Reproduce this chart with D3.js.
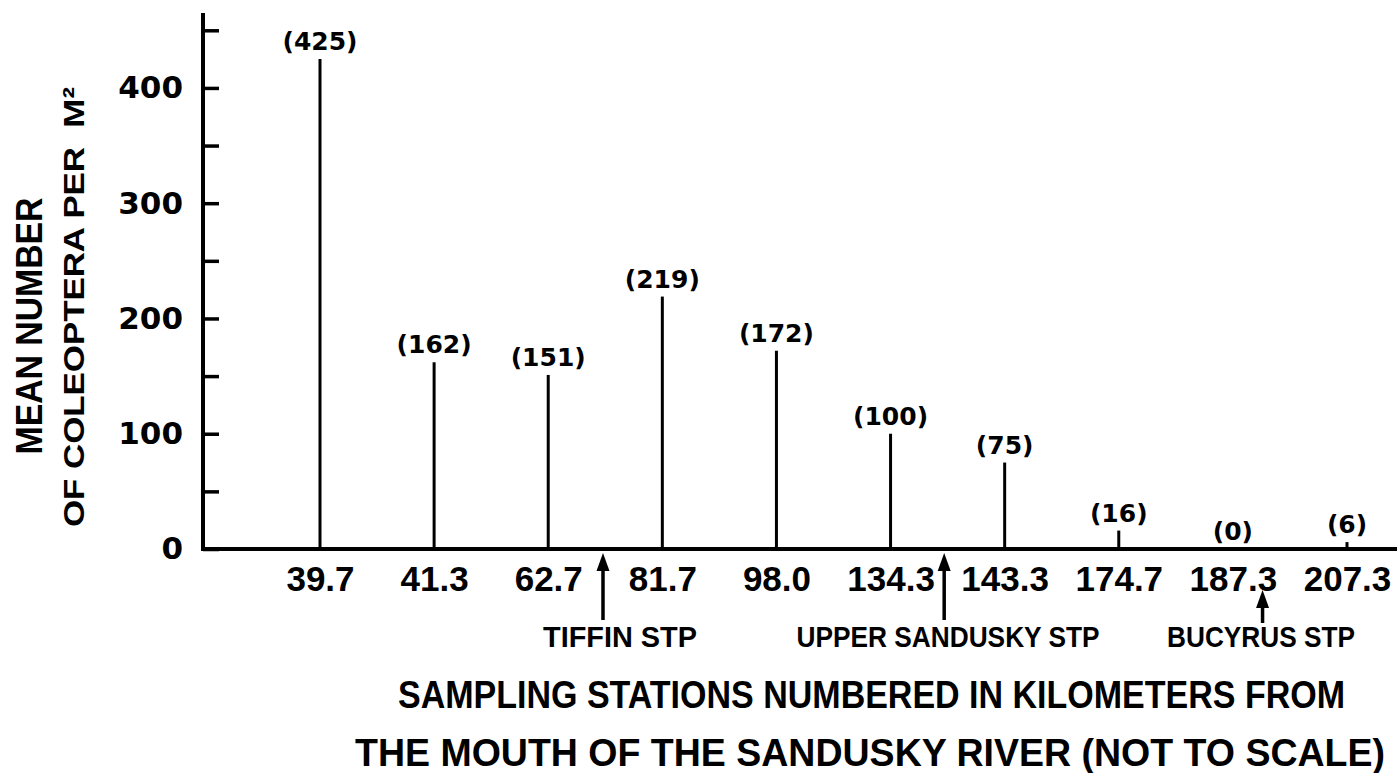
<!DOCTYPE html>
<html>
<head>
<meta charset="utf-8">
<script src="https://cdn.jsdelivr.net/npm/d3@7"></script>
<style>
  body { margin: 0; background: #fff; }
  svg { display: block; }
</style>
</head>
<body>
<svg id="chart" width="1397" height="773"></svg>
<script>
// stations (km from the mouth) and mean number of Coleoptera per m2
const stations = ["39.7", "41.3", "62.7", "81.7", "98.0", "134.3", "143.3", "174.7", "187.3", "207.3"];
const coleoptera = [425, 162, 151, 219, 172, 100, 75, 16, 0, 6];
const yTicks = [0, 50, 100, 150, 200, 250, 300, 350, 400, 450];

// sewage treatment plants, located between stations (fractional station index)
const stpNames = ["TIFFIN STP", "UPPER SANDUSKY STP", "BUCYRUS STP"];
const stpIndex = [2.48, 5.47, 8.26];

const svg = d3.select("#chart");
const W = 1397, H = 773;
svg.append("rect").attr("width", W).attr("height", H).attr("fill", "#fff");

const x = d3.scalePoint()
  .domain(stations)
  .range([320, 1347]);

const y = d3.scaleLinear()
  .domain([0, 465])
  .range([549, 13]);

const step = x.step();
const xAt = i => x(stations[0]) + i * step;

// y axis, ticks pointing inward
const yAxis = g => g
  .attr("transform", `translate(203,0)`)
  .call(d3.axisLeft(y)
    .tickValues(yTicks)
    .tickSize(-16)
    .tickSizeOuter(0)
    .tickPadding(20)
    .tickFormat(d => d % 100 === 0 ? d : ""))
  .call(g => g.select(".domain").attr("stroke-width", 4).attr("d", `M0,${y(0) + 2}V${y.range()[1]}`))
  .call(g => g.selectAll(".tick line").attr("stroke-width", 3.5))
  .call(g => g.selectAll(".tick text")
    .attr("font-family", "'DejaVu Sans', sans-serif")
    .attr("font-weight", "bold")
    .attr("font-size", 31)
    .attr("fill", "#000"));

svg.append("g").call(yAxis);

// x axis baseline, runs to the right edge
svg.append("line")
  .attr("x1", 201).attr("x2", W)
  .attr("y1", y(0)).attr("y2", y(0))
  .attr("stroke", "#000")
  .attr("stroke-width", 4);

const xAxis = g => g
  .attr("transform", `translate(0,${y(0)})`)
  .call(d3.axisBottom(x).tickSize(0).tickPadding(0))
  .call(g => g.select(".domain").remove())
  .call(g => g.selectAll(".tick text")
    .attr("y", 42)
    .attr("dy", null)
    .attr("font-family", "'Liberation Sans', Arial, sans-serif")
    .attr("font-weight", "bold")
    .attr("font-size", 35)
    .attr("fill", "#000"));

svg.append("g").call(xAxis);

// stems
svg.append("g")
  .selectAll("line")
  .data(coleoptera)
  .join("line")
  .attr("x1", (d, i) => x(stations[i]))
  .attr("x2", (d, i) => x(stations[i]))
  .attr("y1", y(0))
  .attr("y2", d => y(d))
  .attr("stroke", "#000")
  .attr("stroke-width", 3);

// value labels
svg.append("g")
  .selectAll("text")
  .data(coleoptera)
  .join("text")
  .attr("x", (d, i) => x(stations[i]))
  .attr("y", d => y(d) - 9)
  .attr("text-anchor", "middle")
  .attr("font-family", "'DejaVu Sans', sans-serif")
  .attr("font-weight", "bold")
  .attr("font-size", 25)
  .text(d => `(${d})`);

// STP arrows and labels
const arrowTip = [553, 553, 590];
const arrowTail = [620, 620, 623];
const stp = svg.append("g");
stpNames.forEach((name, i) => {
  const ax = xAt(stpIndex[i]);
  stp.append("line")
    .attr("x1", ax).attr("x2", ax)
    .attr("y1", arrowTip[i] + 12).attr("y2", arrowTail[i])
    .attr("stroke", "#000")
    .attr("stroke-width", 3.5);
  stp.append("path")
    .attr("d", `M${ax},${arrowTip[i]}L${ax - 6.5},${arrowTip[i] + 18}L${ax + 6.5},${arrowTip[i] + 18}Z`)
    .attr("fill", "#000");
});

const stpLabelX = [620, 948, 1261];
const stpLabelW = [154, 303, 188];
stp.selectAll("text")
  .data(stpNames)
  .join("text")
  .attr("x", (d, i) => stpLabelX[i] - stpLabelW[i] / 2)
  .attr("y", 647)
  .attr("textLength", (d, i) => stpLabelW[i])
  .attr("lengthAdjust", "spacingAndGlyphs")
  .attr("font-family", "'Liberation Sans', Arial, sans-serif")
  .attr("font-weight", "bold")
  .attr("font-size", 30)
  .text(d => d);

// x axis title (condensed lettering: narrower font stretched vertically)
const xTitle = [
  { text: "SAMPLING STATIONS NUMBERED IN KILOMETERS FROM", x0: 398, w: 947, y: 708 },
  { text: "THE MOUTH OF THE SANDUSKY RIVER (NOT TO SCALE)", x0: 355, w: 1030, y: 766 }
];
svg.append("g")
  .selectAll("text")
  .data(xTitle)
  .join("text")
  .attr("transform", d => `translate(${d.x0},${d.y}) scale(1,1.2)`)
  .attr("textLength", d => d.w)
  .attr("lengthAdjust", "spacingAndGlyphs")
  .attr("font-family", "'Liberation Sans Narrow', 'Liberation Sans', Arial, sans-serif")
  .attr("font-weight", "bold")
  .attr("font-size", 32)
  .text(d => d.text);

// y axis title (rotated)
const yTitle = [
  { text: "MEAN NUMBER", cx: 42, cy: 326, len: 257, size: 37 },
  { text: "OF COLEOPTERA PER\u00a0 M\u00b2", cx: 84, cy: 307, len: 440, size: 30 }
];
svg.append("g")
  .selectAll("text")
  .data(yTitle)
  .join("text")
  .attr("transform", d => `translate(${d.cx},${d.cy}) rotate(-90)`)
  .attr("x", d => -d.len / 2)
  .attr("y", 0)
  .attr("textLength", d => d.len)
  .attr("lengthAdjust", "spacingAndGlyphs")
  .attr("font-family", "'Liberation Sans', Arial, sans-serif")
  .attr("font-weight", "bold")
  .attr("font-size", d => d.size)
  .text(d => d.text);
</script>
</body>
</html>
